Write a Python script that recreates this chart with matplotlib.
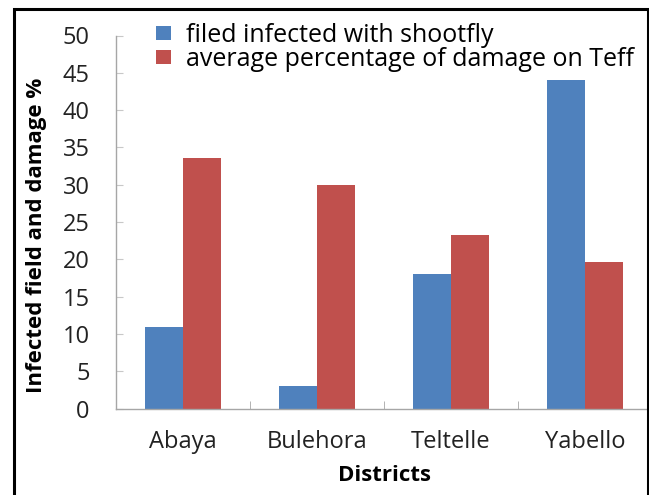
import matplotlib
matplotlib.use('Agg')
import matplotlib.pyplot as plt
import numpy as np
from matplotlib.patches import Rectangle

districts = ['Abaya', 'Bulehora', 'Teltelle', 'Yabello']
infected = [11, 3, 18, 44]
damage = [33.6, 30.0, 23.3, 19.7]
series_names = ['filed infected with shootfly',
                'average percentage of damage on Teff']

plt.rcParams['font.family'] = ['Open Sans', 'DejaVu Sans']

W, H = 649, 495
fig = plt.figure(figsize=(W / 100, H / 100), dpi=100)
ax = fig.add_axes([116 / W, 1 - 408.7 / H, (652 - 116) / W, (408.7 - 35.5) / H])

x = np.arange(len(districts))
w = 0.28
ax.bar(x - w / 2, infected, w, color='#4F81BD', label=series_names[0])
ax.bar(x + w / 2, damage, w, color='#C0504D', label=series_names[1])

ax.set_xlim(-0.5, 3.5)
ax.set_ylim(0, 50)
ax.set_yticks(np.arange(0, 51, 5))
ax.set_xticks(x)
ax.set_xticklabels(districts)
ax.set_xticks(np.arange(0.5, 3.5, 1), minor=True)

for s in ['top', 'right']:
    ax.spines[s].set_visible(False)
for s in ['left', 'bottom']:
    ax.spines[s].set_color('#a6a6a6')
    ax.spines[s].set_linewidth(1.0)

ax.tick_params(axis='y', direction='in', length=5, color='#c8c8c8',
               labelsize=17, pad=19, labelcolor='#222222')
ax.tick_params(axis='x', which='major', length=0, labelsize=17, pad=15,
               labelcolor='#222222')
ax.tick_params(axis='x', which='minor', direction='in', length=6,
               color='#a6a6a6')

ax.set_xlabel('Districts', fontsize=16, fontweight='bold', labelpad=8)
fig.text(37 / W, 1 - 235 / H, 'Infected field and damage %', fontsize=16,
         fontweight='bold', rotation=90, ha='center', va='center')

fig.legend(loc='upper left', bbox_to_anchor=(156 / W, 1 - 23 / H),
           frameon=False, fontsize=18, handlelength=0.6, handleheight=0.45,
           handletextpad=0.62, labelspacing=-0.05, borderpad=0,
           borderaxespad=0)

# outer frame around the figure
fig.patches.append(Rectangle((13.5 / W, -0.05), (647.5 - 13.5) / W,
                             1.05 - 8.7 / H, transform=fig.transFigure,
                             fill=False, edgecolor='black', linewidth=2.2,
                             clip_on=False))

fig.savefig('out.png', dpi=100)
